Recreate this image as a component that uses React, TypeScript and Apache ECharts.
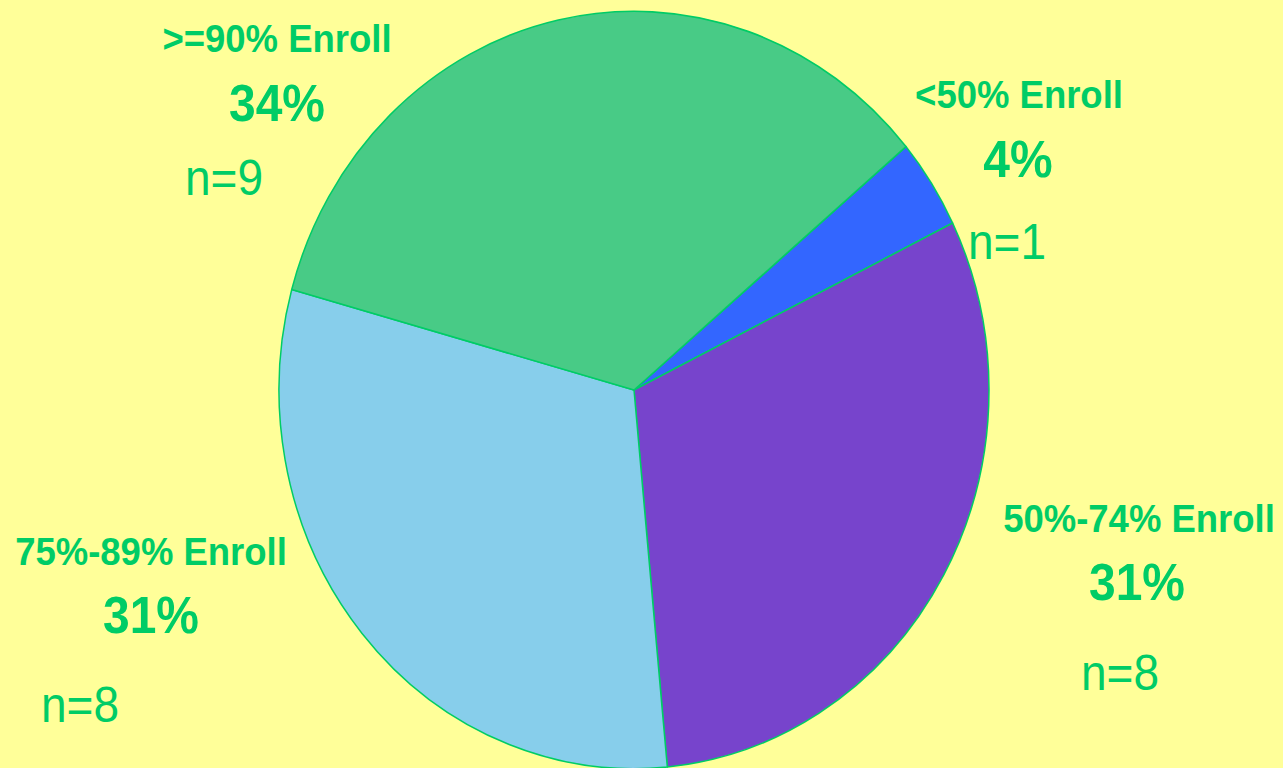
import React, { useEffect, useRef } from "react";
import * as echarts from "echarts";

const categories = ["<50% Enroll", "50%-74% Enroll", "75%-89% Enroll", ">=90% Enroll"];
const counts = [1, 8, 8, 9];
const pctLabels = ["4%", "31%", "31%", "34%"];
const sliceColors = ["#3366FF", "#7744CC", "#87CEEB", "#48CB86"];

// label layout (in unscaled chart coordinates)
const nameCenters = [
  [1019, 88.6],
  [1139, 486.6],
  [151, 517.0],
  [277, 36.6],
];
const pctCenters = [
  [1018, 149.1],
  [1137, 546.1],
  [151, 577.0],
  [277, 96.6],
];
const nLefts = [
  [968, 227.3],
  [1081, 630.5],
  [41, 660.9],
  [185, 166.4],
];

const STRETCH = 1.0667;
const W = 1283;
const H = 768;
const TEXT = "#00CC66";

export default function App() {
  const ref = useRef<HTMLDivElement>(null);
  useEffect(() => {
    if (!ref.current) return;
    const chart = echarts.init(ref.current, null, { renderer: "svg" });
    const graphics: any[] = [];
    categories.forEach((c, i) => {
      graphics.push({
        type: "text",
        x: nameCenters[i][0],
        y: nameCenters[i][1],
        style: {
          text: c,
          fill: TEXT,
          font: "bold 36.5px 'Liberation Sans', Arial, sans-serif",
          align: "center",
          verticalAlign: "middle",
        },
      });
      graphics.push({
        type: "text",
        x: pctCenters[i][0],
        y: pctCenters[i][1],
        style: {
          text: pctLabels[i],
          fill: TEXT,
          font: "bold 48px 'Liberation Sans', Arial, sans-serif",
          align: "center",
          verticalAlign: "middle",
        },
      });
      graphics.push({
        type: "text",
        x: nLefts[i][0],
        y: nLefts[i][1],
        style: {
          text: "n=" + counts[i],
          fill: TEXT,
          font: "46px 'Liberation Sans', Arial, sans-serif",
          align: "left",
          verticalAlign: "middle",
        },
      });
    });
    chart.setOption({
      animation: false,
      backgroundColor: "#FFFF99",
      series: [
        {
          type: "pie",
          center: [634, 390 / STRETCH],
          radius: [0, 355],
          startAngle: 40,
          clockwise: true,
          label: { show: false },
          labelLine: { show: false },
          emphasis: { disabled: true },
          itemStyle: { borderColor: "#00CC66", borderWidth: 1.5 },
          data: categories.map((c, i) => ({
            name: c,
            value: counts[i],
            itemStyle: { color: sliceColors[i] },
          })),
        },
      ],
      graphic: graphics,
    });
    return () => chart.dispose();
  }, []);
  return (
    <div
      style={{
        position: "fixed",
        left: 0,
        top: 0,
        width: W,
        height: H,
        overflow: "hidden",
        background: "#FFFF99",
      }}
    >
      <div
        ref={ref}
        style={{
          width: W,
          height: H / STRETCH,
          transform: `scaleY(${STRETCH})`,
          transformOrigin: "0 0",
        }}
      />
    </div>
  );
}
